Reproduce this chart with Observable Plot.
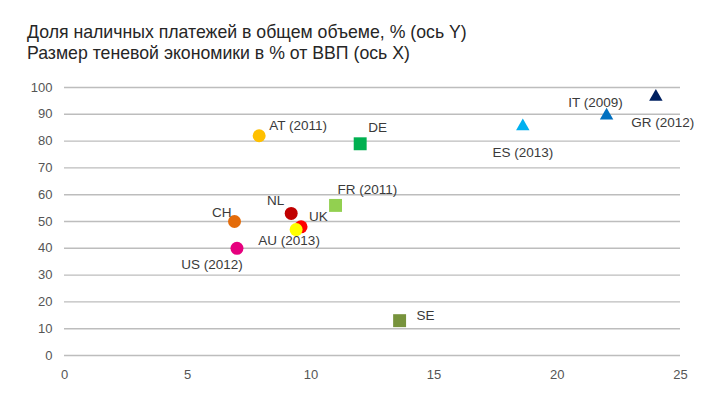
<!DOCTYPE html>
<html>
<head>
<meta charset="utf-8">
<script src="https://cdn.jsdelivr.net/npm/d3@7"></script>
<script src="https://cdn.jsdelivr.net/npm/@observablehq/plot@0.6"></script>
<style>
  body { margin: 0; background: #fff; font-family: "Liberation Sans", Arial, sans-serif; }
  #title { padding: 22px 0 0 27px; font-size: 17.7px; line-height: 21px; color: #262626; height: 46px; }
</style>
</head>
<body>
<div id="title">Доля наличных платежей в общем объеме, % (ось Y)<br>Размер теневой экономики в % от ВВП (ось X)</div>
<div id="chart"></div>
<script>
const countries = ["AT (2011)", "DE", "FR (2011)", "NL", "UK", "AU (2013)", "CH", "US (2012)", "SE", "ES (2013)", "IT (2009)", "GR (2012)"];
const shadowEconomy = [7.9, 12.0, 11.0, 9.2, 9.6, 9.4, 6.9, 7.0, 13.6, 18.6, 22.0, 24.0];
const cashShare = [82, 79, 56, 53, 48, 47, 50, 40, 13, 85.5, 89.5, 96.5];
const markerGroup = ["circle", "square", "square", "circle", "circle", "circle", "circle", "circle", "square", "triangle", "triangle", "triangle"];
const xTicks = [0, 5, 10, 15, 20, 25];
const yTicks = [0, 10, 20, 30, 40, 50, 60, 70, 80, 90, 100];

// styling (not data)
const colors = ["#FFC000", "#00B050", "#92D050", "#C00000", "#FF0000", "#FFFF00", "#E46C0A", "#E6007E", "#77933C", "#00B0F0", "#0070C0", "#002060"];
const markerSize = {circle: 6.5, square: 7.3, triangle: 5};
const labelLayout = {
  "AT (2011)": [10, -10, "start"],
  "DE": [8, -16, "start"],
  "FR (2011)": [2, -16, "start"],
  "NL": [-7, -13, "end"],
  "UK": [8, -10, "start"],
  "AU (2013)": [-7, 11, "middle"],
  "CH": [-3, -9, "end"],
  "US (2012)": [-25, 16, "middle"],
  "SE": [17, -5, "start"],
  "ES (2013)": [0, 26, "middle"],
  "IT (2009)": [-11, -13, "middle"],
  "GR (2012)": [7, 26, "middle"]
};

const data = countries.map((c, i) => ({
  country: c, x: shadowEconomy[i], y: cashShare[i], shape: markerGroup[i]
}));

const textMarks = data.map(d => Plot.text([d], {
  x: "x", y: "y", text: "country",
  dx: labelLayout[d.country][0], dy: labelLayout[d.country][1],
  textAnchor: labelLayout[d.country][2], fill: "#3a3a3a", fontSize: 13.5
}));

const chart = Plot.plot({
  width: 720,
  height: 328,
  marginTop: 19,
  marginBottom: 41,
  marginLeft: 64,
  marginRight: 40,
  style: {fontFamily: "'Liberation Sans', Arial, sans-serif", background: "#fff"},
  x: {domain: [0, 25], ticks: xTicks, tickSize: 0, tickPadding: 14, label: null},
  y: {domain: [0, 100], ticks: yTicks, tickSize: 0, tickPadding: 12, label: null},
  color: {domain: countries, range: colors},
  symbol: {domain: ["circle", "square", "triangle"], range: ["circle", "square", "triangle"]},
  r: {type: "identity"},
  marks: [
    Plot.ruleY(yTicks, {stroke: "#bdbdbd", strokeWidth: 1.4}),
    Plot.axisX({ticks: xTicks, tickSize: 0, tickPadding: 14, fontSize: 13, fill: "#555", stroke: null}),
    Plot.axisY({ticks: yTicks, tickSize: 0, tickPadding: 12, fontSize: 13, fill: "#555", stroke: null}),
    Plot.dot(data, {
      x: "x", y: "y", fill: "country", symbol: "shape",
      r: d => markerSize[d.shape], stroke: null
    }),
    ...textMarks
  ]
});
document.getElementById("chart").appendChild(chart);
</script>
</body>
</html>
